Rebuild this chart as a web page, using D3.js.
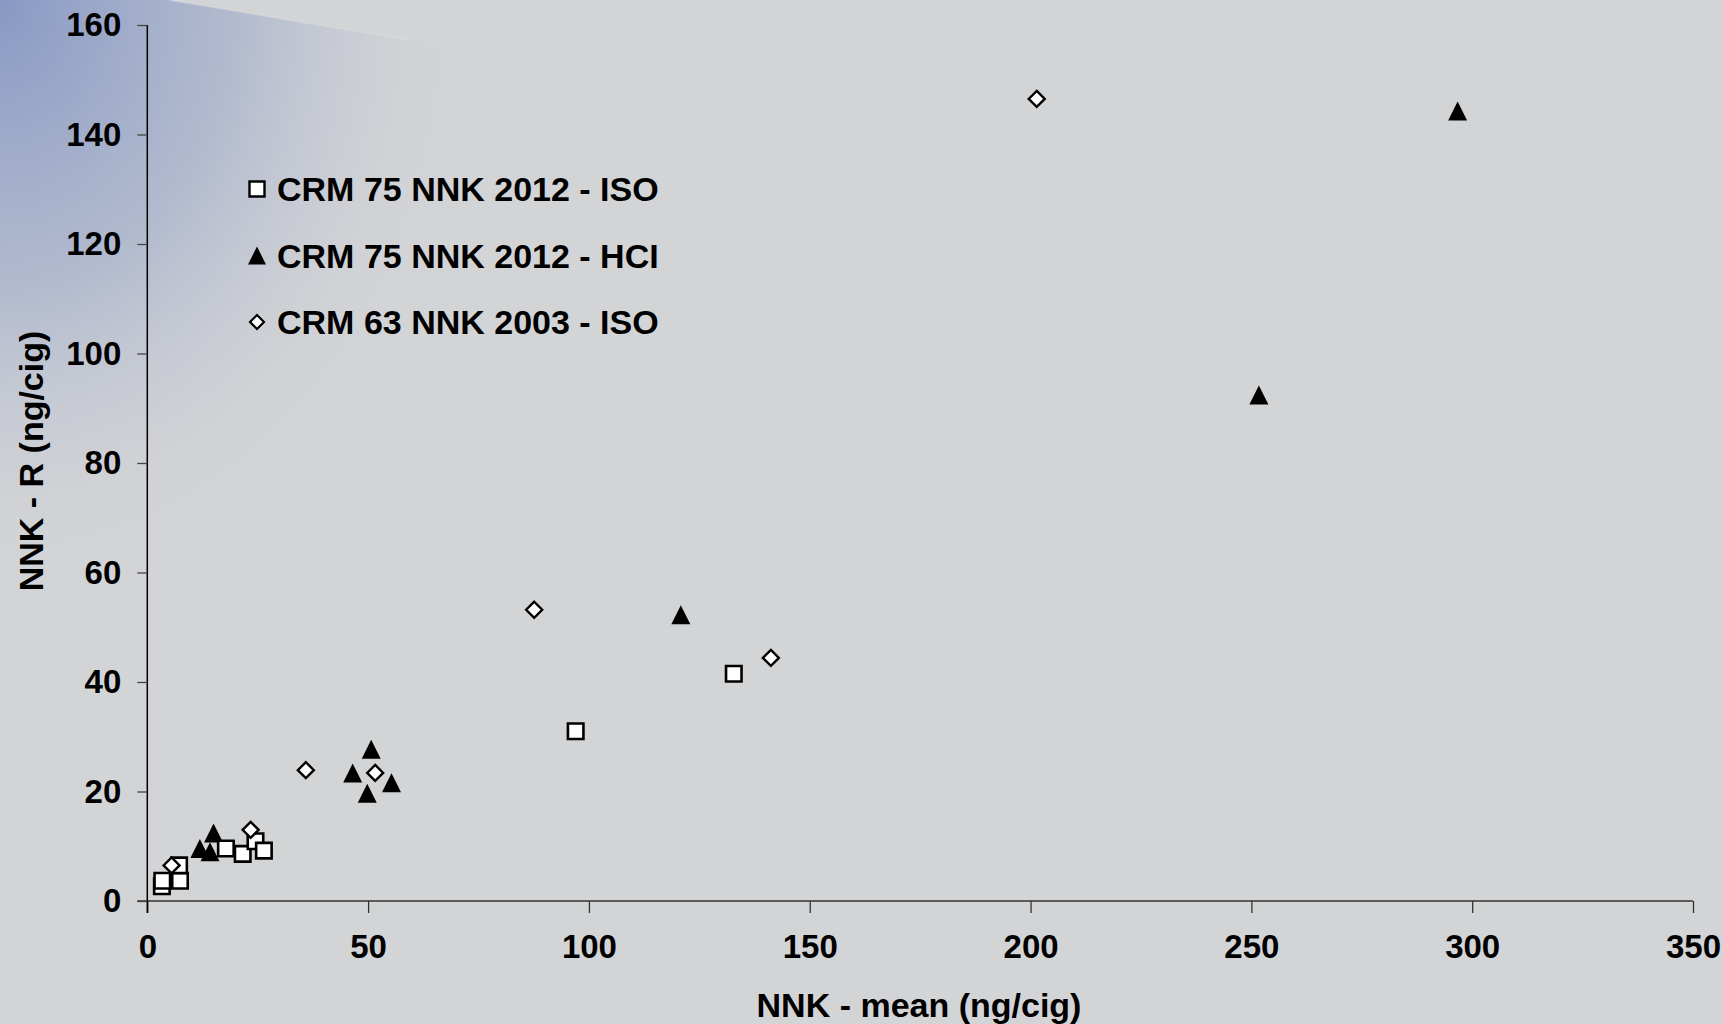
<!DOCTYPE html>
<html>
<head>
<meta charset="utf-8">
<script src="https://cdn.jsdelivr.net/npm/d3@7"></script>
<style>
  html, body { margin: 0; padding: 0; background: #d3d4d6; }
  svg { display: block; }
  text { font-family: "Liberation Sans", Arial, sans-serif; font-weight: bold; fill: #000; }
</style>
</head>
<body>
<svg id="chart" width="1723" height="1024"></svg>
<script>
// NNK mean vs. reproducibility (R), per reference material and smoking regime
const iso2012X = [3.3, 3.4, 7.4, 7.2, 17.8, 21.6, 24.5, 26.4, 97.0, 132.8];
const iso2012Y = [2.7, 3.7, 3.7, 6.5, 9.6, 8.6, 10.9, 9.2, 31.0, 41.5];

const hci2012X = [11.9, 14.2, 15.0, 46.5, 49.8, 50.7, 55.3, 120.8, 251.7, 296.7];
const hci2012Y = [9.6, 9.0, 12.4, 23.4, 19.7, 27.7, 21.6, 52.3, 92.4, 144.3];

const iso2003X = [5.5, 23.4, 35.9, 51.6, 87.6, 141.2, 201.4];
const iso2003Y = [6.5, 13.0, 23.9, 23.4, 53.2, 44.4, 146.5];

const seriesNames = ["CRM 75 NNK 2012 - ISO", "CRM 75 NNK 2012 - HCI", "CRM 63 NNK 2003 - ISO"];
const xTicks = [0, 50, 100, 150, 200, 250, 300, 350];
const yTicks = [0, 20, 40, 60, 80, 100, 120, 140, 160];
const xTitle = "NNK - mean (ng/cig)";
const yTitle = "NNK - R (ng/cig)";

const svg = d3.select("#chart");
const W = 1723, H = 1024;
const plot = { left: 147.3, right: 1693, top: 25, bottom: 901 };
const FONT = '"Liberation Sans", Arial, sans-serif';

// Backdrop: grey slide with a bluish wash in the upper-left corner
const defs = svg.append("defs");
const rg = defs.append("radialGradient")
  .attr("id", "wash")
  .attr("gradientUnits", "userSpaceOnUse")
  .attr("cx", 0).attr("cy", 0).attr("r", 1)
  .attr("gradientTransform", "scale(520,640)");
rg.append("stop").attr("offset", 0).attr("stop-color", "#8799c3").attr("stop-opacity", 1);
rg.append("stop").attr("offset", 0.45).attr("stop-color", "#a9b3cc").attr("stop-opacity", 0.8);
rg.append("stop").attr("offset", 0.8).attr("stop-color", "#cdcfd5").attr("stop-opacity", 0.35);
rg.append("stop").attr("offset", 1).attr("stop-color", "#d3d4d6").attr("stop-opacity", 0);

svg.append("rect").attr("width", W).attr("height", H).attr("fill", "#d3d4d6");
svg.append("path")
  .attr("d", "M0,0 L170,0 L410,40 L700,100 L700,1024 L0,1024 Z")
  .attr("fill", "url(#wash)");
svg.append("path")
  .attr("d", "M170,0 L410,40")
  .attr("stroke", "#dcdde0").attr("stroke-width", 2).attr("fill", "none").attr("opacity", 0.45);

const x = d3.scaleLinear().domain([0, 350]).range([plot.left, plot.right]);
const y = d3.scaleLinear().domain([0, 160]).range([plot.bottom, plot.top]);

// Axes
const xAxis = d3.axisBottom(x).tickValues(xTicks).tickSize(12).tickPadding(22).tickSizeOuter(0);
const yAxis = d3.axisLeft(y).tickValues(yTicks).tickSize(10).tickPadding(16).tickSizeOuter(0);

const gx = svg.append("g").attr("transform", `translate(0,${plot.bottom})`).call(xAxis);
gx.select(".domain").attr("stroke", "#333").attr("stroke-width", 1.3)
  .attr("d", `M${plot.left - 10},0H${plot.right}`);
gx.selectAll(".tick line").attr("stroke", "#333").attr("stroke-width", 1.3);
gx.selectAll(".tick text").attr("font-size", 33).attr("fill", "#000")
  .style("font-family", FONT).style("font-weight", "bold");

const gy = svg.append("g").attr("transform", `translate(${plot.left},0)`).call(yAxis);
gy.select(".domain").attr("stroke", "#000").attr("stroke-width", 1.5)
  .attr("d", `M0,${plot.top}V${plot.bottom + 12}`);
gy.selectAll(".tick line").attr("stroke", "#444").attr("stroke-width", 1.3);
gy.selectAll(".tick text").attr("font-size", 33).attr("fill", "#000")
  .style("font-family", FONT).style("font-weight", "bold");

// Axis titles
svg.append("text")
  .attr("x", 919).attr("y", 1017)
  .attr("text-anchor", "middle").attr("font-size", 34)
  .text(xTitle);
svg.append("text")
  .attr("transform", "translate(43,461) rotate(-90)")
  .attr("text-anchor", "middle").attr("font-size", 34)
  .text(yTitle);

// Marker shapes
const squareType = { draw(ctx, size) { const h = Math.sqrt(size) / 2; ctx.rect(-h, -h, 2 * h, 2 * h); } };
const triangleType = { draw(ctx, size) { const h = Math.sqrt(size) / 2;
  ctx.moveTo(0, -h); ctx.lineTo(h, h); ctx.lineTo(-h, h); ctx.closePath(); } };
const diamondType = { draw(ctx, size) { const h = Math.sqrt(size) / 2;
  ctx.moveTo(0, -h); ctx.lineTo(h, 0); ctx.lineTo(0, h); ctx.lineTo(-h, 0); ctx.closePath(); } };

const sqPath = d3.symbol().type(squareType).size(15.5 * 15.5)();
const triPath = d3.symbol().type(triangleType).size(19 * 19)();
const diaPath = d3.symbol().type(diamondType).size(16 * 16)();

const zip = (xs, ys) => xs.map((v, i) => ({ x: v, y: ys[i] }));

// Triangles (HCI) first, then squares, then diamonds on top
svg.append("g").selectAll("path").data(zip(hci2012X, hci2012Y)).join("path")
  .attr("d", triPath)
  .attr("transform", d => `translate(${x(d.x)},${y(d.y)})`)
  .attr("fill", "#000");

svg.append("g").selectAll("path").data(zip(iso2012X, iso2012Y)).join("path")
  .attr("d", sqPath)
  .attr("transform", d => `translate(${x(d.x)},${y(d.y)})`)
  .attr("fill", "#fff").attr("stroke", "#000").attr("stroke-width", 2.6);

svg.append("g").selectAll("path").data(zip(iso2003X, iso2003Y)).join("path")
  .attr("d", diaPath)
  .attr("transform", d => `translate(${x(d.x)},${y(d.y)})`)
  .attr("fill", "#fff").attr("stroke", "#000").attr("stroke-width", 2.4);

// Legend
const legendRows = [
  { name: seriesNames[0], path: d3.symbol().type(squareType).size(15 * 15)(), fill: "#fff", stroke: "#000", sw: 2.4 },
  { name: seriesNames[1], path: d3.symbol().type(triangleType).size(18 * 18)(), fill: "#000", stroke: "none", sw: 0 },
  { name: seriesNames[2], path: d3.symbol().type(diamondType).size(14 * 14)(), fill: "#fff", stroke: "#000", sw: 2.2 }
];
const legend = svg.append("g");
legendRows.forEach((r, i) => {
  const cy = 189 + i * 66.5;
  legend.append("path").attr("d", r.path)
    .attr("transform", `translate(257,${cy})`)
    .attr("fill", r.fill).attr("stroke", r.stroke).attr("stroke-width", r.sw);
  legend.append("text").attr("x", 277).attr("y", cy + 12)
    .attr("font-size", 34).text(r.name);
});
</script>
</body>
</html>
